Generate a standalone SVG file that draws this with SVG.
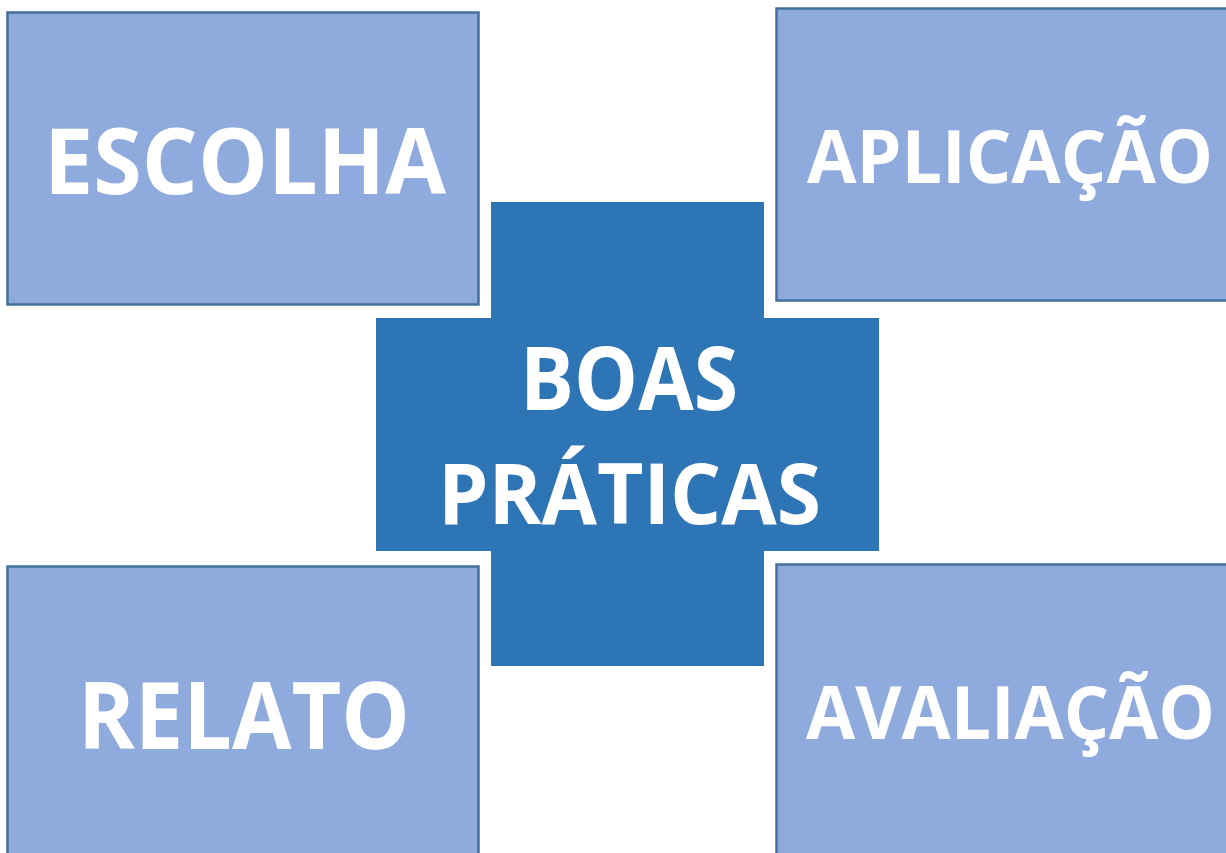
<svg xmlns="http://www.w3.org/2000/svg" width="1226" height="853" viewBox="0 0 1226 853">
<style>
.box{fill:#8FAADC;stroke:#41719C;stroke-width:2.5}
.cross{fill:#2E75B6}
.t{font-family:"Open Sans","Noto Sans","Liberation Sans",sans-serif;font-weight:bold;fill:#FFFFFF;text-anchor:start}
</style>
<rect width="1226" height="853" fill="#FFFFFF"/>
<g id="connectors"></g>
<g id="escolha">
<rect class="box" x="7.5" y="12.5" width="471" height="292"/>
<text class="t" x="44" y="194" font-size="92" textLength="402" lengthAdjust="spacingAndGlyphs">ESCOLHA</text>
</g>
<g id="aplicacao">
<rect class="box" x="776.5" y="8.5" width="451" height="292"/>
<text class="t" x="807" y="183" font-size="74" textLength="406" lengthAdjust="spacingAndGlyphs">APLICAÇÃO</text>
</g>
<g id="relato">
<rect class="box" x="7.5" y="566.5" width="471" height="288"/>
<text class="t" x="78" y="749" font-size="94" textLength="332" lengthAdjust="spacingAndGlyphs">RELATO</text>
</g>
<g id="avaliacao">
<rect class="box" x="776.5" y="564.5" width="451" height="290"/>
<text class="t" x="806" y="739" font-size="73" textLength="409" lengthAdjust="spacingAndGlyphs">AVALIAÇÃO</text>
</g>
<g id="boas-praticas">
<path class="cross" d="M491 202 H764 V318 H879 V551 H764 V666 H491 V551 H376 V318 H491 Z"/>
<text class="t" x="520" y="410" font-size="87" textLength="218" lengthAdjust="spacingAndGlyphs">BOAS</text>
<text class="t" x="438" y="524" font-size="85" textLength="383" lengthAdjust="spacingAndGlyphs">PRÁTICAS</text>
</g>
</svg>
